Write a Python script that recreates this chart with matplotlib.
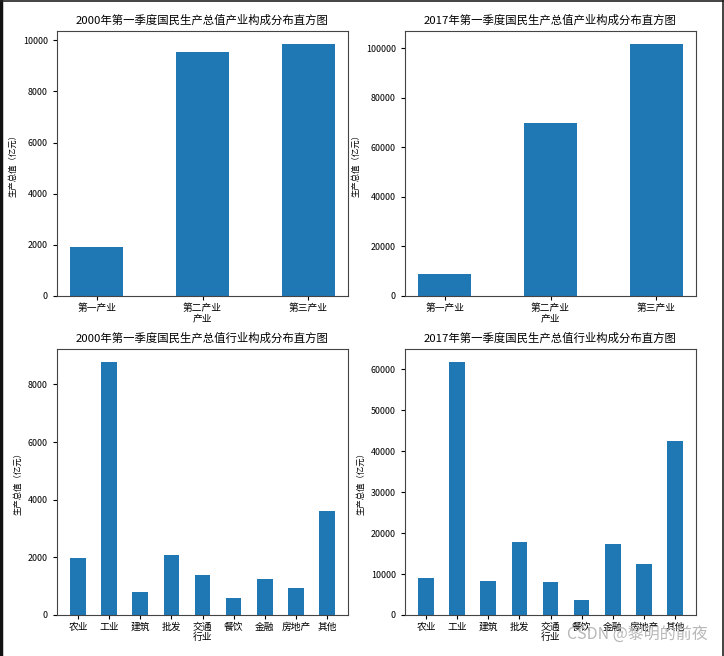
import matplotlib
matplotlib.use("Agg")
import matplotlib.pyplot as plt
from matplotlib.lines import Line2D

plt.rcParams['font.family'] = ['Noto Sans CJK SC', 'DejaVu Sans']
plt.rcParams['axes.unicode_minus'] = False

# data
sectors = ["第一产业", "第二产业", "第三产业"]
sector_2000 = [1905, 9555, 9870]
sector_2017 = [8740, 70020, 101880]

industries = ["农业", "工业", "建筑", "批发", "交通", "餐饮", "金融", "房地产", "其他"]
industry_2000 = [1971, 8788, 788, 2087, 1380, 580, 1252, 939, 3594]
industry_2017 = [9049, 61793, 8397, 17853, 8152, 3587, 17364, 12554, 42554]

fig = plt.figure(figsize=(7.24, 6.56), dpi=100)

panels = [
    ([0.0787, 0.5488, 0.402, 0.4039], sectors, sector_2000,
     "2000年第一季度国民生产总值产业构成分布直方图", "产业"),
    ([0.5594, 0.5488, 0.402, 0.4039], sectors, sector_2017,
     "2017年第一季度国民生产总值产业构成分布直方图", "产业"),
    ([0.0787, 0.0625, 0.402, 0.4055], industries, industry_2000,
     "2000年第一季度国民生产总值行业构成分布直方图", "行业"),
    ([0.5594, 0.0625, 0.402, 0.4055], industries, industry_2017,
     "2017年第一季度国民生产总值行业构成分布直方图", "行业"),
]

for rect, cats, vals, title, xlab in panels:
    ax = fig.add_axes(rect)
    x = range(len(cats))
    ax.bar(x, vals, width=0.5, color="#1f77b4")
    ax.set_xticks(list(x))
    ax.set_xticklabels(cats, fontsize=7, rotation=0)
    ax.tick_params(axis='y', labelsize=6.4, length=3)
    ax.tick_params(axis='x', length=3, pad=2)
    for s in ax.spines.values():
        s.set_color("#444444")
    ax.set_title(title, fontsize=8.2, pad=5)
    ax.set_xlabel(xlab, fontsize=7, labelpad=0)
    ax.set_ylabel("生产总值（亿元）", fontsize=6)

fig.text(0.978, 0.032, "CSDN @黎明的前夜", fontsize=11.5, color="#b8b8b8",
         ha="right", va="center")

# screenshot frame: thick on the left, thin elsewhere
fig.lines.append(Line2D([0.002, 0.002], [0, 1], transform=fig.transFigure,
                        color="#111111", linewidth=2.5))
fig.lines.append(Line2D([0, 1], [0.999, 0.999], transform=fig.transFigure,
                        color="#222222", linewidth=1.2))
fig.lines.append(Line2D([0.9985, 0.9985], [0, 1], transform=fig.transFigure,
                        color="#222222", linewidth=1.2))

fig.savefig("out.png", dpi=100)
